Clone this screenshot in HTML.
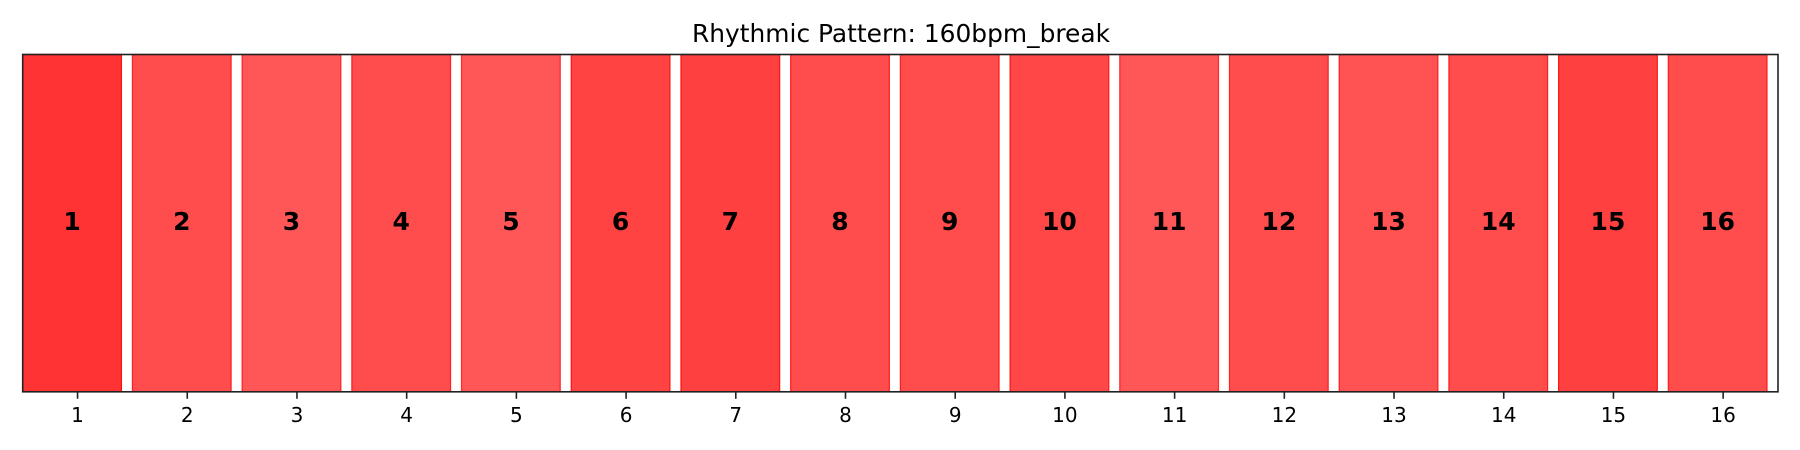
<!DOCTYPE html>
<html><head><meta charset="utf-8"><title>Rhythmic Pattern</title>
<style>html,body{margin:0;padding:0;background:#fff;}svg{display:block;}</style></head>
<body>
<svg id="chart" width="1800" height="450" xmlns="http://www.w3.org/2000/svg" font-family="DejaVu Sans, Liberation Sans, sans-serif">
<text x="901" y="42" font-size="25" text-anchor="middle" textLength="418" lengthAdjust="spacingAndGlyphs" fill="#000">Rhythmic Pattern: 160bpm_break</text>
<g id="bars"></g>
<g id="ticks"></g>
<rect x="22.7" y="54.5" width="1755.3" height="337.3" fill="none" stroke="#222" stroke-width="1.6"/>
</svg>
<script>
const steps = [1,2,3,4,5,6,7,8,9,10,11,12,13,14,15,16];
const alphas = [0.8,0.7,0.66,0.7,0.66,0.74,0.75,0.7,0.7,0.72,0.66,0.7,0.68,0.7,0.75,0.7];
const tickLabels = ["1","2","3","4","5","6","7","8","9","10","11","12","13","14","15","16"];

const L=22.7,R=1778,T=54.5,B=391.8;
const x0=0.5,x1=16.5;
const xs=v=>L+(v-x0)/(x1-x0)*(R-L);
const NS="http://www.w3.org/2000/svg";
const bars=document.getElementById('bars');
const ticks=document.getElementById('ticks');
steps.forEach((s,i)=>{
  const a=alphas[i];
  const r=document.createElementNS(NS,'rect');
  const xa=xs(s-0.5), xb=xs(s+0.4);
  r.setAttribute('x',xa);r.setAttribute('y',T);
  r.setAttribute('width',xb-xa);r.setAttribute('height',B-T);
  r.setAttribute('fill','rgba(255,0,0,'+a+')');
  r.setAttribute('stroke','rgba(255,0,0,'+Math.min(1,a+0.1)+')');
  r.setAttribute('stroke-width','1.2');
  
  
  bars.appendChild(r);
  const t=document.createElementNS(NS,'text');
  t.setAttribute('x',(xa+xb)/2);t.setAttribute('y',(T+B)/2+7);
  t.setAttribute('text-anchor','middle');t.setAttribute('font-size','25');
  t.setAttribute('font-weight','bold');
  t.textContent=String(s);
  
  
  bars.appendChild(t);
  const tx=xs(s);
  const ln=document.createElementNS(NS,'line');
  ln.setAttribute('x1',tx);ln.setAttribute('x2',tx);
  ln.setAttribute('y1',B);ln.setAttribute('y2',B+7);
  ln.setAttribute('stroke','#222');ln.setAttribute('stroke-width','1.6');
  
  
  ticks.appendChild(ln);
  const tl=document.createElementNS(NS,'text');
  tl.setAttribute('x',tx);tl.setAttribute('y',422);
  tl.setAttribute('text-anchor','middle');tl.setAttribute('font-size','20');
  tl.textContent=tickLabels[i];
  
  
  ticks.appendChild(tl);
});
</script>
</body></html>
